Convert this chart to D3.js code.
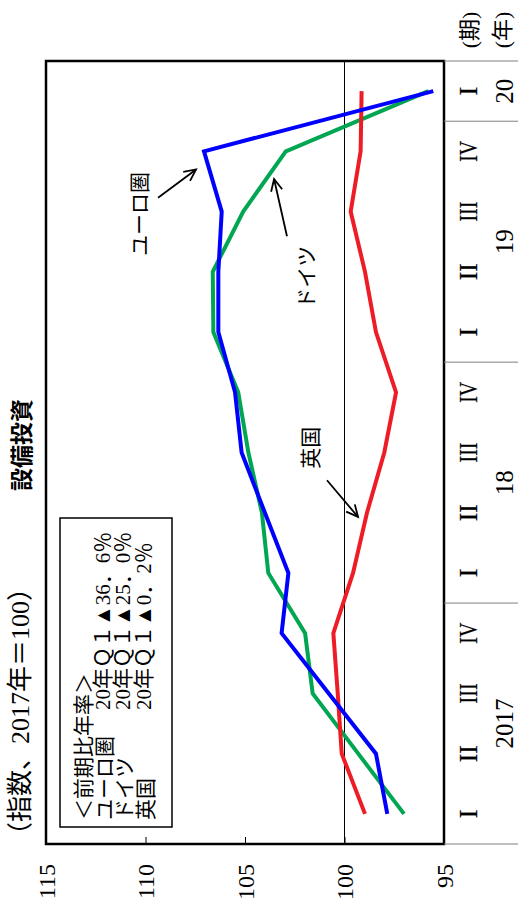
<!DOCTYPE html>
<html><head><meta charset="utf-8">
<script src="https://cdnjs.cloudflare.com/ajax/libs/d3/7.8.5/d3.min.js"></script>
<style>
html,body{margin:0;padding:0;background:#fff;}
svg{display:block;}
</style></head>
<body>
<script>
// ---- data ----
const quarters = ["I","II","III","IV","I","II","III","IV","I","II","III","IV","I"];
const years = [{label:"2017", from:0, to:3},{label:"18", from:4, to:7},{label:"19", from:8, to:11},{label:"20", from:12, to:12}];
const euroArea = [97.85, 98.42, 100.79, 103.16, 102.82, 104.0, 105.17, 105.5, 106.34, 106.34, 106.17, 107.06, 95.54];
const germany  = [97.01, 99.31, 101.6, 101.98, 103.83, 104.15, 104.83, 105.34, 106.59, 106.62, 105.09, 102.95, 95.79];
const uk       = [98.97, 100.14, 100.34, 100.56, 99.57, 98.87, 98.0, 97.41, 98.42, 98.97, 99.69, 99.19, 99.14];
const valueTicks = [115, 110, 105, 100, 95];
const title = "設備投資";
const subtitle = "（指数、2017年＝100）";
const legendHeader = "＜前期比年率＞";
const legendNames = ["ユーロ圏", "ドイツ", "英国"];
const legendValues = ["20年Ｑ１▲36．6％", "20年Ｑ１▲25．0％", "20年Ｑ１▲0．2％"];
// annotations: label position and arrow (category index, value)
const annotations = [
  {text:"ユーロ圏", tx:9.96, tv:110.38, ax1:10.23, av1:109.37, ax2:10.70, av2:107.46},
  {text:"ドイツ",   tx:8.91, tv:101.98, ax1:9.59,  av1:102.89, ax2:10.54, av2:103.54},
  {text:"英国",     tx:6.08, tv:101.78, ax1:5.54,  av1:100.88, ax2:4.93,  av2:99.32}
];

// ---- layout (drawn in unrotated frame 902x518, then rotated) ----
const W = 902, H = 518;
const plot = {left:58, right:841, top:46, bottom:444};
const serif = "'Liberation Serif','DejaVu Serif','Noto Sans CJK JP',serif";
const cjk = "'Noto Sans CJK JP','Liberation Serif',sans-serif";

const svg = d3.select("body").append("svg").attr("width", 518).attr("height", 902);
const g = svg.append("g").attr("transform", `translate(0,${902}) rotate(-90)`);

const idx = d3.range(quarters.length);
const x = d3.scaleBand().domain(idx).range([plot.left, plot.right]).paddingInner(0).paddingOuter(0);
const step = x.step();
const xc = i => plot.left + (i + 0.5) * step; // fractional index position
const y = d3.scaleLinear().domain([95, 115]).range([plot.bottom, plot.top]);

// 100 reference line
g.append("line").attr("x1", plot.left).attr("x2", plot.right)
  .attr("y1", y(100)).attr("y2", y(100)).attr("stroke", "#000").attr("stroke-width", 1);

// value axis
const yAxis = d3.axisLeft(y).tickValues(valueTicks).tickSizeInner(-7).tickSizeOuter(0).tickPadding(20);
const ya = g.append("g").attr("transform", `translate(${plot.left},0)`).call(yAxis);
ya.select(".domain").remove();
ya.selectAll(".tick line").attr("stroke", "#000").attr("stroke-width", 1);
ya.selectAll(".tick text").attr("font-family", serif).attr("font-size", 24).attr("fill", "#000")
  .attr("dy", "0.35em");

// series lines
const line = d3.line().x((d, i) => x(i) + x.bandwidth() / 2).y(d => y(d));
const series = [
  {vals: germany, color: "#00a651"},
  {vals: uk, color: "#ee1c25"},
  {vals: euroArea, color: "#0000ff"}
];
series.forEach(s => {
  g.append("path").datum(s.vals).attr("d", line).attr("fill", "none")
    .attr("stroke", s.color).attr("stroke-width", 4).attr("stroke-linejoin", "miter");
});

// frame
g.append("rect").attr("x", plot.left).attr("y", plot.top)
  .attr("width", plot.right - plot.left).attr("height", plot.bottom - plot.top)
  .attr("fill", "none").attr("stroke", "#000").attr("stroke-width", 2.5);

// category table lines
const seps = [0, 4, 8, 12, 13].map(i => plot.left + i * step);
g.selectAll(".sep").data(seps).enter().append("line")
  .attr("x1", d => d).attr("x2", d => d).attr("y1", plot.bottom).attr("y2", H)
  .attr("stroke", "#808080").attr("stroke-width", 1);

// quarter labels
const qLen = {"I": null, "II": 17, "III": 20, "IV": 21};
g.selectAll(".q").data(idx).enter().append("text")
  .attr("x", i => x(i) + x.bandwidth() / 2).attr("y", 468)
  .attr("text-anchor", "middle").attr("dy", "0.35em")
  .attr("font-family", serif).attr("font-size", 26)
  .attr("stroke", "#000").attr("stroke-width", 0.3)
  .each(function(i){ const L = qLen[quarters[i]]; if (L) d3.select(this).attr("textLength", L).attr("lengthAdjust", "spacingAndGlyphs"); })
  .text(i => quarters[i]);

// year labels
g.selectAll(".yr").data(years).enter().append("text")
  .attr("x", d => (xc(d.from) + xc(d.to)) / 2).attr("y", 504)
  .attr("text-anchor", "middle").attr("dy", "0.35em")
  .attr("font-family", serif).attr("font-size", 25).text(d => d.label);

// headers
g.append("text").attr("x", 872).attr("y", 469).attr("text-anchor", "middle").attr("dy", "0.35em")
  .attr("font-family", serif).attr("font-size", 22).text("(期)");
g.append("text").attr("x", 872).attr("y", 502).attr("text-anchor", "middle").attr("dy", "0.35em")
  .attr("font-family", serif).attr("font-size", 22).text("(年)");

// title & subtitle
g.append("text").attr("x", 457).attr("y", 20).attr("text-anchor", "middle").attr("dominant-baseline", "central")
  .attr("font-family", cjk).attr("font-weight", "bold").attr("font-size", 23).text(title);
g.append("text").attr("x", 54).attr("y", 20).attr("dominant-baseline", "central")
  .attr("font-family", serif).attr("font-size", 26).text(subtitle);

// legend box
g.append("rect").attr("x", 75).attr("y", 60).attr("width", 309).attr("height", 112)
  .attr("fill", "#fff").attr("stroke", "#000").attr("stroke-width", 1.5);
g.append("text").attr("x", 82).attr("y", 82).attr("dominant-baseline", "central")
  .attr("font-family", cjk).attr("font-size", 21).text(legendHeader);
legendNames.forEach((n, i) => {
  const yy = 102.5 + i * 20.8;
  g.append("text").attr("x", 82).attr("y", yy).attr("dominant-baseline", "central")
    .attr("font-family", cjk).attr("font-size", 21).text(n);
  g.append("text").attr("x", 192).attr("y", yy).attr("dominant-baseline", "central")
    .attr("font-family", serif).attr("font-size", 21).text(legendValues[i]);
});

// annotations
function arrow(x1, y1, x2, y2) {
  const a = Math.atan2(y2 - y1, x2 - x1), L = 13, sp = 0.45;
  g.append("line").attr("x1", x1).attr("y1", y1).attr("x2", x2).attr("y2", y2)
    .attr("stroke", "#000").attr("stroke-width", 1.8);
  g.append("path")
    .attr("d", `M${x2 - L*Math.cos(a - sp)},${y2 - L*Math.sin(a - sp)}L${x2},${y2}L${x2 - L*Math.cos(a + sp)},${y2 - L*Math.sin(a + sp)}`)
    .attr("fill", "none").attr("stroke", "#000").attr("stroke-width", 1.8);
}
annotations.forEach(a => {
  g.append("text").attr("x", xc(a.tx)).attr("y", y(a.tv)).attr("text-anchor", "middle")
    .attr("dominant-baseline", "central").attr("font-family", cjk).attr("font-size", 21).text(a.text);
  arrow(xc(a.ax1), y(a.av1), xc(a.ax2), y(a.av2));
});
</script>
</body></html>
